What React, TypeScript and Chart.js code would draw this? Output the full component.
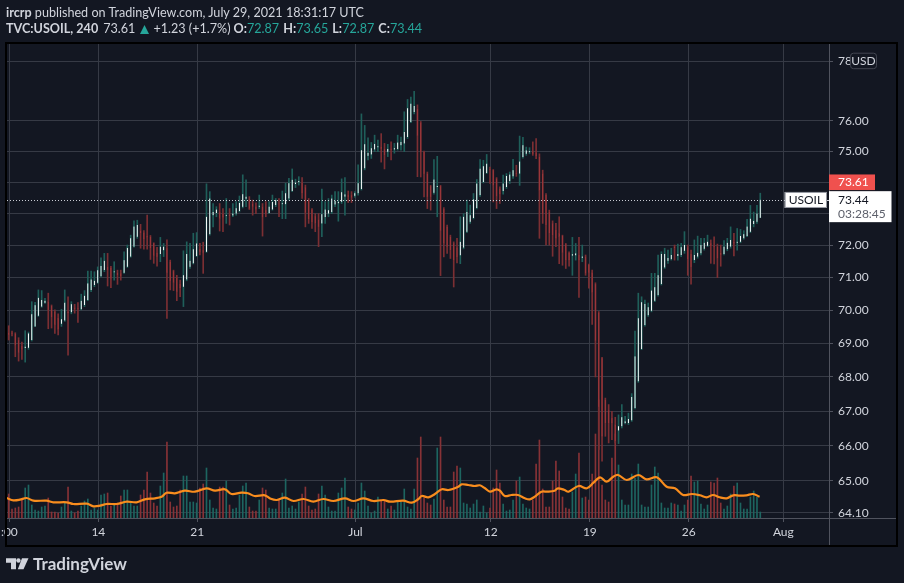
import React, { useEffect, useRef } from "react";
import { Chart, registerables } from "chart.js";

Chart.register(...registerables);

// ---------- data ----------
const OPEN = [
  69.32, 69.30, 69.29, 69.10, 68.92, 68.86, 68.87, 69.10, 69.51, 69.83,
  70.11, 70.23, 70.26, 70.13, 69.96, 69.76, 69.59, 69.69, 69.96, 69.94,
  70.08, 70.06, 70.03, 70.16, 70.31, 70.62, 70.77, 70.84, 71.04, 71.23,
  71.33, 71.30, 71.16, 71.15, 71.13, 71.15, 71.33, 71.65, 71.96, 72.27,
  72.46, 72.40, 72.29, 72.27, 72.06, 71.77, 71.73, 71.85, 71.91, 71.49,
  71.20, 71.00, 70.80, 70.72, 70.94, 71.33, 71.44, 71.67, 71.88, 71.85,
  71.80, 72.35, 72.95, 73.02, 73.05, 73.00, 72.92, 72.97, 72.94, 73.00,
  73.08, 73.22, 73.47, 73.45, 73.32, 73.22, 73.22, 73.22, 73.11, 73.02,
  73.13, 73.27, 73.32, 73.30, 73.30, 73.48, 73.72, 73.94, 74.00, 73.99,
  73.84, 73.43, 73.13, 72.92, 72.81, 72.69, 72.89, 73.00, 73.05, 73.29,
  73.33, 73.38, 73.54, 73.59, 73.59, 73.57, 73.65, 73.78, 74.45, 74.86,
  74.90, 75.06, 75.13, 75.15, 75.08, 74.99, 75.08, 75.06, 75.08, 75.20,
  75.26, 75.47, 75.96, 76.29, 76.40, 75.94, 74.98, 74.28, 73.88, 73.66,
  73.85, 73.88, 73.14, 72.58, 72.27, 72.06, 71.93, 71.69, 71.93, 72.43,
  72.74, 72.86, 73.18, 73.59, 74.01, 74.30, 74.42, 74.39, 74.12, 73.80,
  73.72, 73.85, 74.04, 74.19, 74.30, 74.28, 74.82, 74.92, 74.97, 75.00,
  74.96, 74.82, 74.28, 73.59, 73.05, 72.69, 72.48, 72.38, 72.30, 72.03,
  71.77, 71.68, 71.69, 71.70, 71.61, 71.65, 71.39, 71.15, 70.80, 69.93,
  68.55, 67.33, 67.02, 66.80, 66.61, 66.44, 66.56, 66.65, 66.65, 66.73,
  67.09, 67.87, 68.83, 69.55, 69.85, 69.98, 70.29, 70.46, 70.80, 71.31,
  71.52, 71.57, 71.96, 71.67, 71.70, 71.83, 71.94, 71.73, 71.54, 71.65,
  71.75, 71.89, 71.99, 72.06, 71.98, 71.96, 71.77, 71.73, 71.88, 71.96,
  72.10, 72.08, 72.11, 72.22, 72.29, 72.43, 72.67, 72.74, 72.87,
];
const HIGH = [
  69.53, 69.37, 69.32, 69.17, 69.04, 69.38, 69.34, 70.26, 70.24, 70.62,
  70.60, 70.36, 70.52, 70.16, 70.01, 69.89, 70.03, 70.62, 70.41, 70.26,
  70.18, 70.23, 70.49, 70.60, 71.20, 71.20, 71.18, 71.33, 71.61, 71.75,
  71.75, 71.35, 71.49, 71.23, 71.23, 71.80, 72.01, 72.32, 72.77, 72.79,
  72.66, 72.46, 72.95, 72.31, 72.08, 71.94, 72.25, 72.06, 72.17, 71.54,
  71.23, 71.07, 70.92, 71.83, 72.11, 72.06, 72.38, 72.40, 72.06, 72.10,
  73.95, 73.70, 73.32, 73.22, 73.32, 73.16, 73.48, 73.16, 73.32, 73.38,
  73.56, 74.24, 74.08, 73.54, 73.43, 73.34, 73.59, 73.32, 73.38, 73.38,
  73.59, 73.48, 73.48, 73.72, 73.97, 74.13, 74.43, 74.10, 74.18, 74.15,
  73.91, 73.48, 73.16, 73.00, 73.00, 73.78, 73.38, 73.48, 73.59, 73.70,
  73.70, 74.11, 74.15, 73.72, 73.70, 73.70, 74.56, 76.23, 75.85, 75.44,
  75.29, 75.53, 75.37, 75.58, 75.26, 75.23, 75.31, 75.26, 75.53, 75.47,
  76.30, 76.71, 76.79, 76.98, 76.53, 75.98, 75.01, 74.33, 73.90, 74.73,
  74.84, 73.90, 73.19, 72.64, 72.32, 72.11, 72.22, 72.90, 73.00, 73.43,
  73.27, 73.64, 74.09, 74.73, 74.71, 74.90, 74.49, 74.41, 74.15, 73.85,
  74.23, 74.28, 74.33, 74.74, 74.55, 75.50, 75.46, 75.14, 75.12, 75.31,
  75.42, 74.92, 74.39, 73.64, 73.11, 72.77, 72.69, 72.90, 72.32, 72.06,
  71.80, 72.25, 72.06, 72.25, 72.01, 71.70, 71.42, 71.23, 70.84, 69.96,
  68.58, 67.38, 67.19, 66.99, 66.82, 66.89, 67.19, 66.85, 66.94, 67.51,
  69.37, 70.52, 70.41, 70.31, 70.22, 71.13, 71.13, 71.70, 71.80, 71.91,
  71.85, 71.91, 72.01, 72.04, 72.06, 72.43, 72.01, 71.85, 72.17, 72.29,
  72.22, 72.22, 72.32, 72.17, 72.27, 72.04, 72.01, 72.15, 72.22, 72.58,
  72.38, 72.53, 72.50, 72.46, 72.82, 73.26, 73.05, 73.26, 73.65,
];
const LOW = [
  69.10, 69.22, 68.60, 68.47, 68.52, 68.44, 68.82, 69.07, 69.50, 69.81,
  70.09, 70.21, 69.44, 69.46, 69.30, 69.25, 69.51, 69.66, 68.65, 69.89,
  69.91, 69.63, 70.01, 70.11, 70.29, 70.57, 70.72, 70.82, 71.02, 71.18,
  70.74, 70.69, 70.92, 70.79, 70.92, 71.13, 71.31, 71.63, 71.94, 72.22,
  71.91, 71.88, 71.88, 71.56, 71.44, 71.35, 71.49, 71.65, 69.75, 70.62,
  70.60, 70.29, 70.41, 70.11, 70.90, 71.28, 71.42, 71.65, 71.70, 71.13,
  71.78, 72.32, 72.58, 72.90, 72.45, 72.43, 72.69, 72.64, 72.90, 72.95,
  73.05, 73.18, 73.22, 73.13, 72.95, 73.00, 73.16, 72.29, 72.90, 73.00,
  73.11, 73.22, 72.90, 72.84, 72.84, 73.43, 73.70, 73.83, 73.91, 73.48,
  72.58, 72.69, 72.53, 72.43, 71.96, 72.27, 72.69, 72.90, 73.00, 73.22,
  72.76, 73.32, 72.95, 73.35, 73.35, 73.52, 73.59, 73.75, 74.40, 74.72,
  74.77, 74.99, 74.99, 74.65, 74.43, 74.83, 74.72, 74.94, 75.04, 75.04,
  74.99, 75.42, 75.94, 76.23, 74.18, 74.17, 73.53, 73.16, 73.11, 73.62,
  72.90, 71.06, 71.64, 71.75, 71.59, 70.71, 71.45, 71.43, 71.89, 72.40,
  72.69, 72.83, 73.15, 73.55, 73.98, 74.28, 73.96, 73.37, 73.16, 73.32,
  73.62, 73.80, 73.96, 74.12, 74.19, 73.90, 74.78, 74.87, 74.92, 74.87,
  74.76, 72.22, 72.69, 72.01, 72.01, 71.66, 71.96, 71.43, 71.38, 71.28,
  71.35, 71.07, 71.54, 70.39, 71.49, 71.07, 70.67, 69.57, 68.00, 65.89,
  65.56, 66.27, 66.08, 66.17, 66.08, 66.06, 66.51, 66.63, 66.61, 66.70,
  67.06, 67.84, 68.81, 69.52, 69.81, 69.95, 70.26, 70.43, 70.77, 71.28,
  71.44, 71.54, 71.54, 71.54, 71.65, 71.75, 71.07, 70.80, 71.46, 71.60,
  71.70, 71.85, 71.96, 71.44, 71.42, 71.00, 71.35, 71.70, 71.83, 71.91,
  71.67, 71.85, 72.08, 72.19, 72.27, 72.40, 72.58, 72.69, 72.87,
];
const CLOSE = [
  69.25, 69.29, 68.94, 68.72, 68.82, 68.90, 69.30, 69.88, 70.15, 70.38,
  70.31, 70.29, 70.01, 69.79, 69.56, 69.42, 69.73, 70.23, 69.91, 70.18,
  70.04, 70.03, 70.29, 70.44, 70.82, 70.94, 70.90, 71.23, 71.36, 71.52,
  71.23, 70.97, 71.18, 71.07, 71.04, 71.54, 71.92, 72.22, 72.59, 72.64,
  72.38, 72.19, 72.25, 71.91, 71.68, 71.65, 71.96, 71.96, 71.15, 70.90,
  70.84, 70.57, 70.67, 71.07, 71.73, 71.52, 71.88, 72.06, 71.80, 71.77,
  72.90, 73.48, 73.05, 73.13, 72.84, 72.88, 72.95, 72.93, 73.00, 73.17,
  73.34, 73.62, 73.54, 73.16, 73.22, 73.13, 73.25, 72.88, 73.00, 73.22,
  73.37, 73.43, 73.29, 73.32, 73.65, 73.97, 74.08, 73.99, 74.04, 73.65,
  73.03, 72.82, 72.74, 72.69, 72.58, 72.98, 73.13, 73.11, 73.48, 73.40,
  73.38, 73.68, 73.61, 73.53, 73.51, 73.65, 73.97, 75.04, 75.23, 74.95,
  75.10, 75.24, 75.17, 75.08, 74.88, 75.08, 75.05, 75.10, 75.29, 75.31,
  75.63, 76.42, 76.57, 76.49, 75.51, 74.98, 74.28, 73.53, 73.53, 74.09,
  73.87, 72.46, 72.06, 71.96, 71.85, 71.54, 71.64, 72.11, 72.90, 73.05,
  72.95, 73.45, 73.96, 74.44, 74.52, 74.60, 74.39, 73.90, 73.55, 73.62,
  73.96, 74.20, 74.25, 74.39, 74.26, 74.67, 75.20, 75.03, 75.00, 74.92,
  74.84, 73.74, 72.98, 72.64, 72.38, 72.32, 72.22, 72.27, 71.77, 71.54,
  71.54, 71.72, 71.75, 71.54, 71.65, 71.13, 71.15, 70.54, 69.08, 67.12,
  66.27, 66.65, 66.65, 66.65, 66.13, 66.56, 66.82, 66.70, 66.77, 67.41,
  68.61, 69.76, 70.24, 70.19, 70.09, 70.60, 70.70, 71.07, 71.73, 71.73,
  71.61, 71.70, 71.91, 71.73, 71.94, 72.01, 71.56, 71.33, 71.70, 71.77,
  72.01, 72.08, 72.11, 71.98, 71.94, 71.59, 71.70, 71.96, 72.08, 72.17,
  72.06, 72.11, 72.29, 72.35, 72.59, 72.84, 72.77, 73.00, 73.44,
];
const VOLUME = [
  24, 9, 10, 11, 18, 30, 33, 13, 8, 7,
  11, 12, 20, 6, 6, 5, 11, 16, 31, 7,
  5, 7, 12, 17, 19, 8, 10, 8, 23, 24,
  25, 12, 13, 15, 22, 28, 28, 15, 12, 12,
  23, 28, 46, 25, 15, 12, 32, 45, 76, 16,
  11, 12, 28, 42, 42, 16, 16, 15, 30, 34,
  50, 18, 10, 9, 31, 31, 37, 13, 9, 10,
  23, 32, 35, 11, 7, 7, 18, 30, 28, 10,
  9, 9, 18, 25, 39, 10, 12, 9, 16, 24,
  31, 12, 8, 9, 24, 32, 23, 11, 7, 7,
  25, 30, 40, 11, 9, 8, 15, 35, 27, 12,
  5, 7, 21, 17, 18, 9, 12, 8, 16, 16,
  29, 11, 9, 29, 60, 81, 20, 15, 13, 19,
  70, 81, 18, 11, 11, 46, 52, 50, 15, 14,
  10, 14, 18, 6, 12, 5, 10, 30, 48, 35,
  14, 7, 8, 18, 37, 41, 14, 10, 9, 18,
  54, 78, 29, 11, 11, 37, 57, 47, 21, 10,
  9, 26, 44, 65, 20, 21, 18, 44, 84, 118,
  33, 18, 16, 60, 84, 53, 18, 13, 13, 44,
  40, 54, 13, 11, 11, 33, 51, 45, 15, 10,
  10, 15, 14, 13, 7, 13, 18, 42, 36, 37,
  14, 9, 13, 36, 35, 40, 15, 9, 12, 24,
  32, 35, 15, 9, 9, 21, 27, 21, 6,
];
// volume moving-average line, read point by point (bar index, value)
const MA_POS = [
  -0.6, 1.4, 3.4, 5.4, 7.5, 11.5, 13.5, 17.6, 19.6, 23.7, 25.7, 27.7, 29.7, 32.8, 35.8, 38.8,
  41.3, 44.4, 46.4, 47.9, 50.4, 53.4, 56.5, 60, 62.6, 65.6, 67.6, 70.6, 72.6, 74.6, 77.7,
  79.5, 81.3, 83.8, 86.4, 89.4, 92.4, 95.4, 98.5, 102, 104.6, 107.6, 110.6, 113.7, 115.7, 119.7, 122.3,
  124.3, 125.3, 127.3, 129.3, 131.4, 133.4, 136.4, 137.4, 139.4, 141.4, 142.9, 144.5, 146, 148, 149,
  150.5, 152.5, 154.5, 156.6, 158.1, 159.6, 161.6, 163.6, 165.6, 166.6, 168.6,
  169.8, 172.9, 175.4, 177.4, 179.4, 181.4, 183.4, 184.9, 187.5, 191, 193.5, 196.6, 199.6, 202.1,
  204.6, 207.2, 209.7, 211.7, 213.7, 215.7, 217.8, 219.8, 221.8, 223.8, 225.8, 227.8,
];
const MA_VAL = [
  20, 17.7, 18.3, 20, 17.3, 17.3, 15.7, 15.7, 14, 14.3, 11.7, 12.3, 14, 14, 16.3, 15.7,
  18.7, 19.7, 21.3, 25.3, 24.7, 27.3, 26.3, 29.7, 27.3, 28.7, 24, 25.3, 24.7, 22, 22.7,
  19.2, 18, 20.3, 17, 19, 16.3, 19, 17, 19.7, 17, 19.7, 17, 18, 16.3, 17.3, 15.3,
  19, 22, 20.7, 24, 28.7, 28, 31.3, 33.7, 33, 32, 32.7, 29.7, 26.3, 28.7, 27.3,
  22, 23, 23, 19.7, 18.7, 21.3, 26.3, 26.3, 27.3, 29.7, 28,
  26.3, 32, 29.7, 35.3, 40.7, 36.3, 41.3, 43, 38, 43, 38.7, 40.7, 31.3, 29.7,
  23, 24, 22.7, 20.7, 23, 20.7, 19.7, 22.7, 22.3, 22.7, 24, 21.3,
];
const PRICE_TICKS = [78, 76, 75, 74, 73, 72, 71, 70, 69, 68, 67, 66, 65, 64.1];
const DATE_TICK_POS = [0.2, 27.2, 57.2, 105.2, 146.2, 176.3, 206.3, 235];
const DATE_TICK_LABELS = [":00", "14", "21", "Jul", "12", "19", "26", "Aug"];
const LAST_PRICE = 73.61;
const COUNTDOWN = "03:28:45";
const SYMBOL_TAG = "USOIL";
const CURRENCY = "USD";

// ---------- styles ----------
const BG = "#131722";
const GRID = "#363a45";
const AXIS = "#50535e";
const TEXT = "#d1d4dc";
const TEAL = "#26a69a";
const UP_FILL = "#ffffff";
const UP_BORDER = "#2b6c66";
const UP_WICK = "#1f5f5a";
const DOWN_FILL = "#ab3c3f";
const DOWN_BORDER = "#7b2f33";
const DOWN_WICK = "#7c2f33";
const VOL_UP = "#1d6560";
const VOL_DOWN = "#873236";
const MA_COLOR = "#f98d1e";
const FONT = "Lato, 'Noto Sans', sans-serif";

const X_MIN = -0.52;
const X_MAX = 248.85;
const Y_MIN = 63.96;
const Y_MAX = 78.58;
const VOL_MAX = 474;

const overlayPlugin = {
  id: "tvOverlay",
  beforeDraw(chart: any) {
    const { ctx, width, height } = chart;
    ctx.save();
    ctx.fillStyle = BG;
    ctx.fillRect(0, 0, width, height);
    ctx.restore();
  },
  afterDraw(chart: any) {
    const { ctx, chartArea: a, scales } = chart;
    const yS = scales.y;
    const last = CLOSE[CLOSE.length - 1];
    const yc = yS.getPixelForValue(last);
    const R = a.right;
    const frameR = R + 68;
    const frameB = a.bottom + 28;
    ctx.save();
    ctx.lineWidth = 1;
    // axis separator lines
    ctx.strokeStyle = AXIS;
    const by = Math.round(a.bottom) + 0.5;
    const rx = Math.round(R) + 0.5;
    ctx.beginPath();
    ctx.moveTo(a.left, by);
    ctx.lineTo(frameR, by);
    ctx.moveTo(rx, a.top);
    ctx.lineTo(rx, frameB);
    ctx.stroke();

    // dotted last-price line
    const yl = Math.round(yc) + 0.5;
    ctx.strokeStyle = "#c9ccd3";
    ctx.setLineDash([1, 2]);
    ctx.beginPath();
    ctx.moveTo(a.left, yl);
    ctx.lineTo(R - 44, yl);
    ctx.stroke();
    ctx.setLineDash([]);

    ctx.font = "12px " + FONT;
    ctx.textBaseline = "middle";

    // symbol tag
    ctx.fillStyle = "#ffffff";
    ctx.fillRect(R - 44.3, yc - 7.8, 42.3, 16);
    ctx.strokeStyle = "#9598a1";
    ctx.strokeRect(R - 44.3 + 0.5, yc - 7.8 + 0.5, 41.3, 15);
    ctx.fillStyle = "#131722";
    ctx.textAlign = "center";
    ctx.fillText(SYMBOL_TAG, R - 23.1, yc + 0.5);
    ctx.strokeStyle = "#d1d4dc";
    ctx.beginPath();
    ctx.moveTo(R - 2, yl);
    ctx.lineTo(R + 4, yl);
    ctx.stroke();

    // white close/countdown label
    ctx.fillStyle = "#ffffff";
    ctx.fillRect(R, yc - 8.6, 62.5, 31);
    ctx.textAlign = "left";
    ctx.fillStyle = "#131722";
    ctx.fillText(last.toFixed(2), R + 9, yc + 0.5);
    ctx.fillStyle = "#5d606b";
    ctx.fillText(COUNTDOWN, R + 9, yc + 14.5);

    // red last-price label
    ctx.fillStyle = "#f0514e";
    ctx.fillRect(R, yc - 25.3, 46, 15.6);
    ctx.fillStyle = "#ffffff";
    ctx.fillText(LAST_PRICE.toFixed(2), R + 9, yc - 17.3);

    // currency button
    const ux = R + 21;
    const uy = a.top + 8.7;
    ctx.fillStyle = BG;
    ctx.strokeStyle = "#434651";
    ctx.beginPath();
    if (ctx.roundRect) ctx.roundRect(ux + 0.5, uy + 0.5, 26, 15.5, 3);
    else ctx.rect(ux + 0.5, uy + 0.5, 26, 15.5);
    ctx.fill();
    ctx.stroke();
    ctx.fillStyle = TEXT;
    ctx.textAlign = "center";
    ctx.fillText(CURRENCY, ux + 13.5, uy + 8.5);

    // outer frame
    ctx.strokeStyle = "#000000";
    ctx.lineWidth = 2;
    ctx.strokeRect(a.left - 1, a.top - 1, frameR - a.left + 1, frameB - a.top + 1);
    ctx.restore();
  },
};

export default function App() {
  const ref = useRef<HTMLCanvasElement | null>(null);

  useEffect(() => {
    const canvas = ref.current;
    if (!canvas) return;
    const idx = CLOSE.map((_, i) => i);
    const up = idx.map((i) => CLOSE[i] >= OPEN[i]);

    const chart = new Chart(canvas, {
      type: "bar",
      data: {
        datasets: [
          {
            label: "Volume",
            data: idx.map((i) => ({ x: i, y: VOLUME[i] })),
            yAxisID: "vol",
            xAxisID: "x",
            backgroundColor: up.map((u) => (u ? VOL_UP : VOL_DOWN)),
            barThickness: 1,
            maxBarThickness: 2.2,
            grouped: false,
            order: 4,
          },
          {
            type: "line",
            label: "Vol MA",
            data: MA_POS.map((x, i) => ({ x, y: MA_VAL[i] })),
            yAxisID: "vol",
            xAxisID: "x",
            borderColor: MA_COLOR,
            borderWidth: 2.2,
            pointRadius: 0,
            tension: 0.35,
            fill: false,
            order: 3,
          },
          {
            label: "Wick",
            data: idx.map((i) => ({ x: i, y: [LOW[i], HIGH[i]] })),
            yAxisID: "y",
            xAxisID: "x",
            backgroundColor: up.map((u) => (u ? UP_WICK : DOWN_WICK)),
            barThickness: 1,
            maxBarThickness: 1,
            grouped: false,
            order: 2,
          },
          {
            label: "Body",
            data: idx.map((i) => ({ x: i, y: [OPEN[i], CLOSE[i]] })),
            yAxisID: "y",
            xAxisID: "x",
            backgroundColor: up.map((u) => (u ? UP_FILL : DOWN_FILL)),
            borderColor: up.map((u) => (u ? UP_BORDER : DOWN_BORDER)),
            borderWidth: up.map((u) => (u ? 0.35 : 0.5)),
            borderSkipped: false,
            minBarLength: 1,
            barThickness: 1,
            maxBarThickness: 3,
            grouped: false,
            order: 1,
          },
        ],
      } as any,
      options: {
        responsive: false,
        animation: false,
        events: [],
        layout: { padding: { left: 7, top: 44, right: 7, bottom: 37 } },
        plugins: { legend: { display: false }, tooltip: { enabled: false } },
        scales: {
          x: {
            type: "linear",
            position: "bottom",
            min: X_MIN,
            max: X_MAX,
            bounds: "data",
            offset: false,
            grid: { color: GRID, tickColor: AXIS, tickLength: 4, offset: false },
            border: { display: false },
            afterBuildTicks: (s: any) => {
              s.ticks = DATE_TICK_POS.map((v) => ({ value: v }));
            },
            afterFit: (s: any) => {
              s.height = 28;
              s.paddingLeft = 0;
              s.paddingRight = 0;
            },
            ticks: {
              autoSkip: false,
              maxRotation: 0,
              minRotation: 0,
              color: TEXT,
              padding: 3,
              font: { size: 12, family: FONT },
              callback: (_v: any, i: number) => DATE_TICK_LABELS[i],
            },
          },
          y: {
            type: "logarithmic",
            position: "right",
            min: Y_MIN,
            max: Y_MAX,
            bounds: "data",
            grid: { color: GRID, tickColor: AXIS, tickLength: 4 },
            border: { display: false },
            afterBuildTicks: (s: any) => {
              s.ticks = PRICE_TICKS.map((v) => ({ value: v }));
            },
            afterFit: (s: any) => {
              s.width = 68;
              s.paddingTop = 0;
              s.paddingBottom = 0;
            },
            ticks: {
              autoSkip: false,
              color: TEXT,
              padding: 5,
              font: { size: 12, family: FONT },
              callback: (v: any) => Number(v).toFixed(2),
            },
          },
          vol: {
            type: "linear",
            axis: "y",
            position: "left",
            display: false,
            min: 0,
            max: VOL_MAX,
          },
        },
      } as any,
      plugins: [overlayPlugin],
    });
    return () => chart.destroy();
  }, []);

  const teal = { color: TEAL };
  const line = { position: "absolute" as const, left: 6, fontSize: 12.6, lineHeight: "16px", whiteSpace: "nowrap" as const };
  return (
    <div
      style={{
        position: "fixed",
        left: 0,
        top: 0,
        width: 904,
        height: 583,
        background: BG,
        overflow: "hidden",
        fontFamily: FONT,
        color: TEXT,
      }}
    >
      <canvas ref={ref} width={904} height={583} style={{ position: "absolute", left: 0, top: 0, width: 904, height: 583 }} />
      <div style={{ ...line, top: 5 }}>
        <b>ircrp</b> published on TradingView.com, July 29, 2021 18:31:17 UTC
      </div>
      <div style={{ ...line, top: 21 }}>
        <b>TVC:USOIL, 240</b>
        <span style={{ marginLeft: 5 }}>73.61</span>
        <svg width={9} height={9} viewBox="0 0 9 9" style={{ marginLeft: 5, marginRight: 4, verticalAlign: "-0.5px" }}>
          <path d="M4.5 0 L9 9 H0 Z" fill={TEAL} />
        </svg>
        <span>+1.23 (+1.7%)</span>
        <b style={{ marginLeft: 3 }}>O:</b>
        <span style={teal}>72.87</span>
        <b style={{ marginLeft: 4 }}>H:</b>
        <span style={teal}>73.65</span>
        <b style={{ marginLeft: 4 }}>L:</b>
        <span style={teal}>72.87</span>
        <b style={{ marginLeft: 4 }}>C:</b>
        <span style={teal}>73.44</span>
      </div>
      <svg style={{ position: "absolute", left: 0, top: 550 }} width={40} height={26} viewBox="0 550 40 26">
        <path d="M6 558.3 H16 V569.3 H11 V562.7 H6 Z" fill="#d1d4dc" />
        <circle cx={18.4} cy={560.5} r={2.2} fill="#d1d4dc" />
        <path d="M22 558.3 H28.5 L23.5 569.3 H17.8 Z" fill="#d1d4dc" />
      </svg>
      <div
        style={{
          position: "absolute",
          left: 33,
          top: 554,
          fontSize: 17,
          fontWeight: 700,
          lineHeight: "20px",
          color: "#d1d4dc",
          whiteSpace: "nowrap",
        }}
      >
        TradingView
      </div>
    </div>
  );
}
